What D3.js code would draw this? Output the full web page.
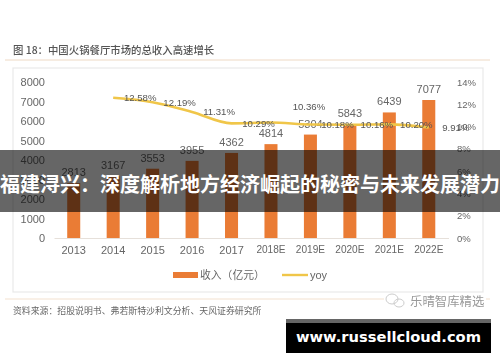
<!DOCTYPE html>
<html>
<head>
<meta charset="utf-8">
<script src="https://cdn.jsdelivr.net/npm/d3@7"></script>
<style>
  html, body { margin: 0; padding: 0; background: #fff; }
  svg { display: block; }
  text { font-family: "Liberation Sans", "Noto Sans CJK SC", sans-serif; }
  .cjk { font-family: "Noto Sans CJK SC", sans-serif; }
</style>
</head>
<body>
<svg id="chart"></svg>
<script>
const years      = ["2013", "2014", "2015", "2016", "2017", "2018E", "2019E", "2020E", "2021E", "2022E"];
const revenue    = [2813, 3167, 3553, 3955, 4362, 4814, 5304, 5843, 6439, 7077];
const yoy        = [null, 12.58, 12.19, 11.31, 10.29, 10.36, 10.18, 10.16, 10.20, 9.91];
const leftTicks  = [0, 1000, 2000, 3000, 4000, 5000, 6000, 7000, 8000];
const rightTicks = [0, 2, 4, 6, 8, 10, 12, 14];

const svg = d3.select("#chart").attr("width", 500).attr("height", 362);

const defs = svg.append("defs");
defs.append("filter").attr("id", "soft").append("feGaussianBlur").attr("stdDeviation", 0.5);

const x  = d3.scaleBand().domain(years).range([54, 448.5]).paddingInner(0.67).paddingOuter(0.335);
const yL = d3.scaleLinear().domain([0, 8000]).range([238, 82]);
const yR = d3.scaleLinear().domain([0, 14]).range([238, 82]);
const cx = d => x(d) + x.bandwidth() / 2;

const root = svg.append("g").attr("filter", "url(#soft)");

// header, frame, footer
root.append("text").attr("class", "cjk").attr("x", 13).attr("y", 54).attr("font-size", 10.4).attr("font-weight", 500).attr("fill", "#555")
  .text("图 18：中国火锅餐厅市场的总收入高速增长");
root.append("line").attr("x1", 5).attr("x2", 490).attr("y1", 60).attr("y2", 60).attr("stroke", "#eed9c4");
root.append("rect").attr("x", 13).attr("y", 68).attr("width", 470).attr("height", 224).attr("fill", "none").attr("stroke", "#e9e9e9").attr("stroke-width", 1.2);
root.append("line").attr("x1", 5).attr("x2", 490).attr("y1", 299).attr("y2", 299).attr("stroke", "#f3e2d0").attr("stroke-width", 1.2);
root.append("text").attr("class", "cjk").attr("x", 13).attr("y", 314).attr("font-size", 8.9).attr("fill", "#666")
  .text("资料来源：招股说明书、弗若斯特沙利文分析、天风证券研究所");

// axes
const xAxis = root.append("g").attr("transform", "translate(0,238)")
  .call(d3.axisBottom(x).tickSize(0).tickPadding(8));
xAxis.select(".domain").attr("stroke", "#e6e0da");
xAxis.selectAll("text").attr("font-size", d => d.endsWith("E") ? 10.1 : 11).attr("font-family", "Liberation Sans").attr("fill", "#666");

const leftAxis = root.append("g").attr("transform", "translate(45,0)")
  .call(d3.axisLeft(yL).tickValues(leftTicks).tickSize(0).tickPadding(0).tickFormat(d3.format("d")));
leftAxis.select(".domain").remove();
leftAxis.selectAll("text").attr("font-size", 11).attr("font-family", "Liberation Sans").attr("fill", "#666");

const rightAxis = root.append("g").attr("transform", "translate(457,0)")
  .call(d3.axisRight(yR).tickValues(rightTicks).tickSize(0).tickPadding(0).tickFormat(d => d + "%"));
rightAxis.select(".domain").remove();
rightAxis.selectAll("text").attr("font-size", 9.5).attr("font-family", "Liberation Sans").attr("fill", "#666");

// bars + labels
root.selectAll("rect.bar").data(years).join("rect").attr("class", "bar")
  .attr("x", d => x(d)).attr("width", x.bandwidth())
  .attr("y", (d, i) => yL(revenue[i])).attr("height", (d, i) => 238 - yL(revenue[i]))
  .attr("fill", "#ea7c36");
root.selectAll("text.bar-label").data(years).join("text").attr("class", "bar-label")
  .attr("x", d => cx(d)).attr("y", (d, i) => yL(revenue[i]) - 7)
  .attr("text-anchor", "middle").attr("font-size", 11).attr("fill", "#666")
  .text((d, i) => revenue[i]);

// yoy line, labels sit right of their points like the source (2018E is lifted clear)
const pts = years.map((d, i) => ({ year: d, v: yoy[i] })).filter(d => d.v !== null);
const line = d3.line().x(d => cx(d.year)).y(d => yR(d.v)).curve(d3.curveMonotoneX);
root.append("path").datum(pts).attr("d", line).attr("fill", "none").attr("stroke", "#f0c649").attr("stroke-width", 2.6);
root.selectAll("text.yoy-label").data(pts).join("text").attr("class", "yoy-label")
  .attr("x", d => cx(d.year) + (d.year === "2018E" ? 38 : 27))
  .attr("y", d => d.year === "2018E" ? yR(d.v) - 12.5 : yR(d.v) + 3.5)
  .attr("text-anchor", "middle").attr("font-size", 9.6).attr("fill", "#555")
  .text(d => d.v.toFixed(2) + "%");

// legend
root.append("rect").attr("x", 173).attr("y", 272).attr("width", 25).attr("height", 6).attr("fill", "#ea7c36");
root.append("text").attr("class", "cjk").attr("x", 200).attr("y", 279).attr("font-size", 10.8).attr("fill", "#666").text("收入（亿元）");
root.append("line").attr("x1", 282).attr("x2", 308).attr("y1", 275).attr("y2", 275).attr("stroke", "#f0c649").attr("stroke-width", 2.4);
root.append("text").attr("x", 310).attr("y", 279).attr("font-size", 11).attr("fill", "#666").text("yoy");

// watermark
root.append("rect").attr("x", 384).attr("y", 293).attr("width", 102).attr("height", 16).attr("fill", "#fff");
root.append("ellipse").attr("cx", 392).attr("cy", 299).attr("rx", 6).attr("ry", 5).attr("fill", "none").attr("stroke", "#ccc");
root.append("ellipse").attr("cx", 399).attr("cy", 303).attr("rx", 5).attr("ry", 4).attr("fill", "none").attr("stroke", "#ccc");
root.append("text").attr("class", "cjk").attr("x", 410).attr("y", 306).attr("font-size", 12.4).attr("fill", "#999").text("乐晴智库精选");

// title band over the chart
svg.append("rect").attr("x", 0).attr("y", 150).attr("width", 500).attr("height", 62).attr("fill", "#000").attr("opacity", 0.6);
svg.append("text").attr("class", "cjk").attr("x", 250).attr("y", 192).attr("text-anchor", "middle")
  .attr("font-size", 20).attr("font-weight", 700).attr("fill", "#fff")
  .text("福建浔兴：深度解析地方经济崛起的秘密与未来发展潜力");

// site stamp
svg.append("rect").attr("x", 286).attr("y", 319).attr("width", 205).attr("height", 34).attr("fill", "#000");
svg.append("rect").attr("x", 286).attr("y", 319).attr("width", 205).attr("height", 4).attr("fill", "#666");
svg.append("text").attr("x", 388.5).attr("y", 342).attr("text-anchor", "middle")
  .style("font-family", "DejaVu Sans").attr("font-size", 14.7).attr("font-weight", 700).attr("fill", "#fff")
  .text("www.russellcloud.com");
</script>
</body>
</html>
